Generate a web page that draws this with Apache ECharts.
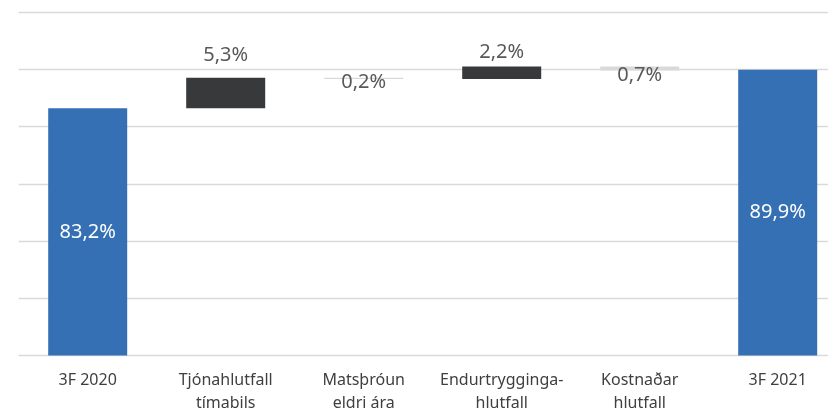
<!DOCTYPE html>
<html>
<head>
<meta charset="utf-8">
<script src="https://cdn.jsdelivr.net/npm/echarts@6/dist/echarts.min.js"></script>
<style>html,body{margin:0;padding:0;background:#fff}#c{width:828px;height:411px}</style>
</head>
<body>
<div id="c"></div>
<script>
var categories = ['3F 2020', 'Tjónahlutfall\ntímabils', 'Matsþróun\neldri ára', 'Endurtrygginga-\nhlutfall', 'Kostnaðar\nhlutfall', '3F 2021'];
var totals = [83.2, null, null, null, null, 89.9];
var changes = [null, 5.3, -0.2, 2.2, -0.7, null];
var yTicks = [40, 50, 60, 70, 80, 90, 100];

// label distance styling per category (style only)
var labelDist = [0, 13, -7, 4, -5, 0];

function fmt(v) { return Math.abs(v).toFixed(1).replace('.', ',') + '%'; }

var labelFont = { fontFamily: 'Noto Sans', fontSize: 20, color: '#595959' };
var running = 0;
var baseData = [], upData = [], downData = [], totalData = [];
for (var i = 0; i < categories.length; i++) {
  if (totals[i] !== null) {
    running = totals[i];
    baseData.push(null); upData.push(null); downData.push(null);
    totalData.push(totals[i]);
  } else {
    var d = changes[i];
    if (d >= 0) {
      baseData.push(running);
      upData.push({ value: d, label: { distance: labelDist[i] } });
      downData.push(null);
      running += d;
    } else {
      running += d;
      baseData.push(running); upData.push(null);
      downData.push({ value: -d, label: { distance: labelDist[i] } });
    }
    totalData.push(null);
  }
}

var chart = echarts.init(document.getElementById('c'));
chart.setOption({
  animation: false,
  grid: { left: 18.7, right: -18.7, top: 12, bottom: 55.5, outerBoundsMode: 'none', containLabel: false },
  xAxis: {
    type: 'category', data: categories,
    axisLine: { show: false }, axisTick: { show: false },
    axisLabel: { interval: 0, fontFamily: 'Noto Sans', fontSize: 16, color: '#3f3f3f', lineHeight: 23, margin: 13 }
  },
  yAxis: {
    type: 'value', min: yTicks[0], max: yTicks[yTicks.length - 1], interval: 10,
    axisLabel: { show: false }, axisLine: { show: false }, axisTick: { show: false },
    splitLine: { lineStyle: { color: '#d9d9d9', width: 1.3 } }
  },
  series: [
    { type: 'bar', stack: 'w', data: baseData, barWidth: 79, itemStyle: { color: 'transparent' }, silent: true },
    { type: 'bar', stack: 'w', data: upData, barWidth: 79, itemStyle: { color: '#38393b' },
      label: Object.assign({ show: true, position: 'top', formatter: function(p){ return fmt(p.value); } }, labelFont) },
    { type: 'bar', stack: 'w', data: downData, barWidth: 79, itemStyle: { color: '#d9d9d9' },
      label: Object.assign({ show: true, position: 'bottom', formatter: function(p){ return fmt(p.value); } }, labelFont) },
    { type: 'bar', stack: 'w', data: totalData, barWidth: 79, itemStyle: { color: '#3570b4' },
      label: { show: true, position: 'inside', formatter: function(p){ return fmt(p.value); },
        fontFamily: 'Noto Sans', fontSize: 20, color: '#ffffff' } }
  ]
});
</script>
</body>
</html>
